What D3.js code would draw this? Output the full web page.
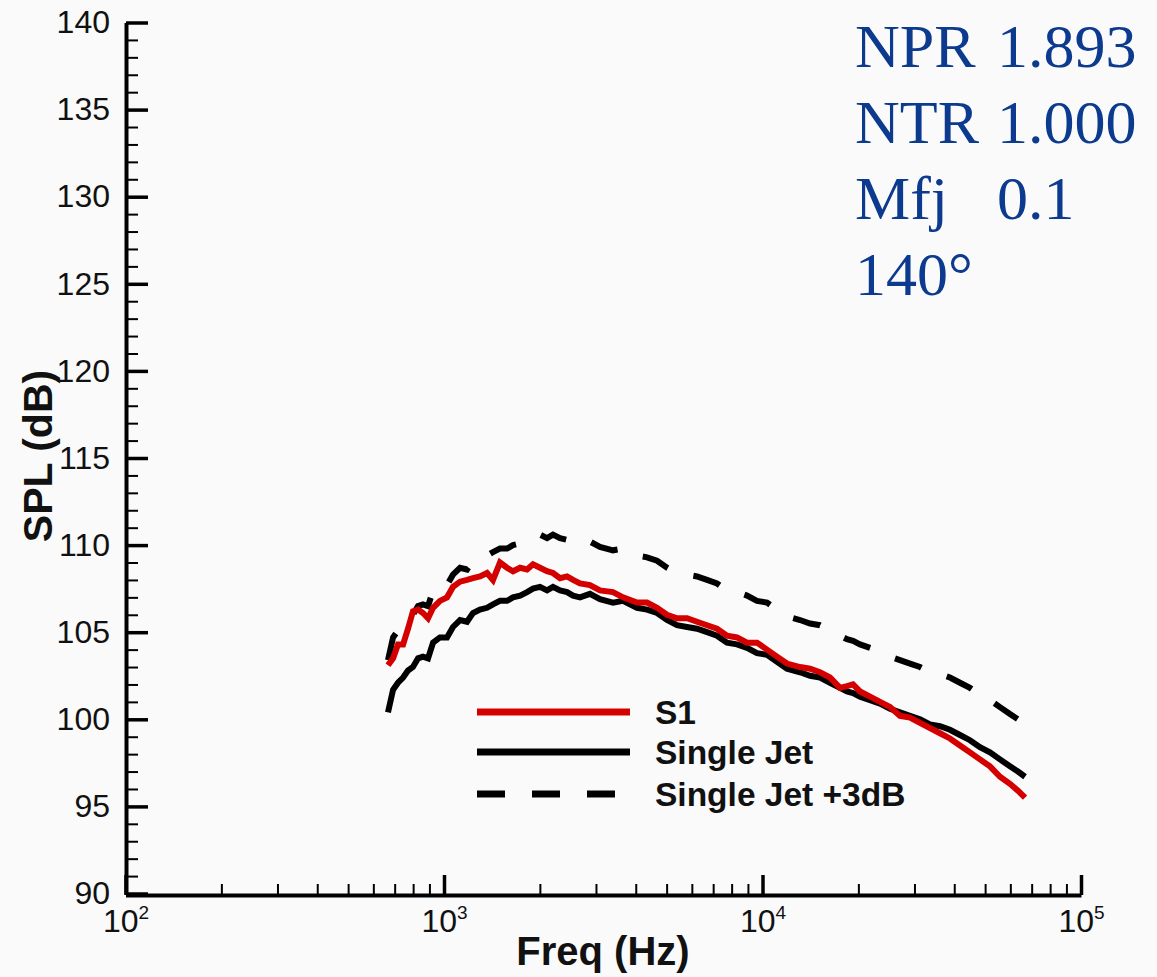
<!DOCTYPE html>
<html>
<head>
<meta charset="utf-8">
<script src="https://cdn.jsdelivr.net/npm/d3@7/dist/d3.min.js"></script>
<style>
  html, body { margin: 0; padding: 0; background: #fafafa; }
  svg { display: block; }
</style>
</head>
<body>
<svg id="chart" width="1157" height="977"></svg>
<script>
// Frequencies (Hz) of the spectrum samples
const freq = [667,692,717,744,771,799,829,859,891,924,
  971,1022,1067,1123,1181,1233,1297,1365,1425,1499,
  1577,1647,1733,1823,1903,2002,2106,2199,2314,2434,
  2542,2673,2873,3088,3393,3648,4036,4339,4665,5014,
  5390,5795,6229,6697,7197,7736,8317,8941,9610,10331,
  11106,11938,13118,14103,15155,16290,17510,18420,19240,20240,
  21760,23390,25140,27020,29050,31220,33560,36080,38780,41690,
  44810,48170,51780,55660,59840,63400,66730];

// SPL (dB), configuration S1
const splS1 = [103.1,103.5,104.3,104.3,105.2,106.2,106.3,106.1,105.8,106.4,
  106.8,107.0,107.6,107.9,108.0,108.1,108.2,108.4,108.0,109.0,
  108.7,108.5,108.7,108.6,108.9,108.7,108.5,108.4,108.1,108.2,
  108.0,107.8,107.7,107.4,107.3,107.0,106.7,106.7,106.4,106.0,
  105.8,105.8,105.6,105.4,105.2,104.8,104.7,104.4,104.4,104.0,
  103.6,103.2,103.0,102.9,102.7,102.4,101.8,101.9,102.0,101.6,
  101.3,101.0,100.7,100.2,100.1,99.8,99.5,99.2,98.9,98.5,
  98.1,97.7,97.3,96.7,96.3,95.9,95.5];

// SPL (dB), single jet
const splSingle = [100.4,101.7,102.1,102.4,102.8,103.0,103.5,103.6,103.5,104.4,
  104.7,104.7,105.3,105.7,105.6,106.1,106.3,106.4,106.6,106.8,
  106.8,107.0,107.1,107.3,107.5,107.6,107.4,107.6,107.4,107.3,
  107.1,107.0,107.2,106.9,106.7,106.8,106.4,106.3,106.1,105.7,
  105.4,105.3,105.2,105.0,104.8,104.4,104.3,104.1,103.8,103.7,
  103.3,102.9,102.7,102.5,102.4,102.1,101.8,101.6,101.5,101.3,
  101.1,100.9,100.6,100.4,100.2,100.0,99.7,99.6,99.4,99.1,
  98.8,98.4,98.1,97.7,97.3,97.0,96.7];

// SPL (dB), single jet raised by 3 dB
const splSinglePlus3 = [103.4,104.7,105.1,105.4,105.8,106.0,106.5,106.6,106.5,107.4,
  107.7,107.7,108.3,108.7,108.6,109.1,109.3,109.4,109.6,109.8,
  109.8,110.0,110.1,110.3,110.5,110.6,110.4,110.6,110.4,110.3,
  110.1,110.0,110.2,109.9,109.7,109.8,109.4,109.3,109.1,108.7,
  108.4,108.3,108.2,108.0,107.8,107.4,107.3,107.1,106.8,106.7,
  106.3,105.9,105.7,105.5,105.4,105.1,104.8,104.6,104.5,104.3,
  104.1,103.9,103.6,103.4,103.2,103.0,102.7,102.6,102.4,102.1,
  101.8,101.4,101.1,100.7,100.3,100.0,99.7];

const seriesNames = ["S1", "Single Jet", "Single Jet +3dB"];
const yMajorTicks = [90,95,100,105,110,115,120,125,130,135,140];
const xDecadeTicks = [100,1000,10000,100000];
const annotationLabels = ["NPR", "NTR", "Mfj", "140°"];
const annotationValues = ["1.893", "1.000", "0.1", ""];

const svg = d3.select("#chart");
const sans = "'Liberation Sans', Arial, Helvetica, sans-serif";
const serif = "'Liberation Serif', 'Times New Roman', serif";

const x = d3.scaleLog().domain([100, 100000]).range([125.5, 1081]);
const y = d3.scaleLinear().domain([90, 140]).range([893.5, 22.5]);

// minor ticks
const yMinor = d3.range(91, 140).filter(v => v % 5 !== 0);
const xMinor = [];
[100, 1000, 10000].forEach(d => { for (let k = 2; k <= 9; k++) xMinor.push(d * k); });

// y axis: minor ticks
svg.append("g").attr("transform", "translate(126,0)")
  .call(d3.axisLeft(y).tickValues(yMinor).tickSize(-12).tickSizeOuter(0).tickFormat(""))
  .call(g => g.select(".domain").remove())
  .call(g => g.selectAll(".tick line").attr("stroke", "#000").attr("stroke-width", 2));

// y axis: major ticks and labels
svg.append("g").attr("transform", "translate(126,0)")
  .call(d3.axisLeft(y).tickValues(yMajorTicks).tickSize(-22).tickSizeOuter(0).tickPadding(16))
  .call(g => g.select(".domain").attr("stroke", "#000").attr("stroke-width", 4))
  .call(g => g.selectAll(".tick line").attr("stroke", "#000").attr("stroke-width", 3.5))
  .call(g => g.selectAll(".tick text").attr("fill", "#111").attr("font-family", sans).attr("font-size", 32));

// x axis: minor ticks
svg.append("g").attr("transform", "translate(0,895)")
  .call(d3.axisBottom(x).tickValues(xMinor).tickSize(-11).tickSizeOuter(0).tickFormat(""))
  .call(g => g.select(".domain").remove())
  .call(g => g.selectAll(".tick line").attr("stroke", "#000").attr("stroke-width", 2));

// x axis: decade ticks with power-of-ten labels
svg.append("g").attr("transform", "translate(0,895)")
  .call(d3.axisBottom(x).tickValues(xDecadeTicks).tickSize(-20).tickSizeOuter(0).tickPadding(14).tickFormat(""))
  .call(g => g.select(".domain").attr("stroke", "#000").attr("stroke-width", 4))
  .call(g => g.selectAll(".tick line").attr("stroke", "#000").attr("stroke-width", 3.5))
  .call(g => g.selectAll(".tick text").each(function(d) {
      const t = d3.select(this).attr("fill", "#111").attr("font-family", sans).attr("font-size", 32);
      t.append("tspan").text("10");
      t.append("tspan").attr("font-size", 19).attr("dy", "-13").text(String(Math.round(Math.log10(d))));
  }));

// axis titles
svg.append("text")
  .attr("x", 603).attr("y", 965)
  .attr("text-anchor", "middle")
  .attr("font-family", sans).attr("font-weight", "bold").attr("font-size", 40)
  .attr("fill", "#111")
  .text("Freq (Hz)");

svg.append("text")
  .attr("transform", "translate(52,456) rotate(-90)")
  .attr("text-anchor", "middle")
  .attr("font-family", sans).attr("font-weight", "bold").attr("font-size", 41)
  .attr("fill", "#111")
  .text("SPL (dB)");

// spectra
const line = values => d3.line()
  .x((d, i) => x(freq[i]))
  .y(d => y(d))(values);

const styles = [
  { values: splSinglePlus3, color: "#000", dash: "28,27" },
  { values: splSingle, color: "#000", dash: null },
  { values: splS1, color: "#d40000", dash: null }
];

styles.forEach(s => {
  svg.append("path")
    .attr("d", line(s.values))
    .attr("fill", "none")
    .attr("stroke", s.color)
    .attr("stroke-width", 6)
    .attr("stroke-linejoin", "miter")
    .attr("stroke-dasharray", s.dash);
});

// legend
const legendItems = [
  { name: seriesNames[0], color: "#d40000", dash: null, y: 712 },
  { name: seriesNames[1], color: "#000", dash: null, y: 752 },
  { name: seriesNames[2], color: "#000", dash: "28,27", y: 794 }
];
const legend = svg.append("g");
legendItems.forEach(it => {
  legend.append("line")
    .attr("x1", 477).attr("x2", 630).attr("y1", it.y).attr("y2", it.y)
    .attr("stroke", it.color).attr("stroke-width", 7)
    .attr("stroke-dasharray", it.dash);
  legend.append("text")
    .attr("x", 655).attr("y", it.y + 11.5)
    .attr("font-family", sans).attr("font-weight", "bold").attr("font-size", 33.5)
    .attr("fill", "#111")
    .text(it.name);
});

// run-condition annotation
const note = svg.append("g").attr("fill", "#0b3a8e").attr("font-family", serif).attr("font-size", 62);
annotationLabels.forEach((lab, i) => {
  const by = 67 + i * 76;
  note.append("text").attr("x", 855).attr("y", by).text(lab);
  if (annotationValues[i]) note.append("text").attr("x", 997).attr("y", by).text(annotationValues[i]);
});
</script>
</body>
</html>
